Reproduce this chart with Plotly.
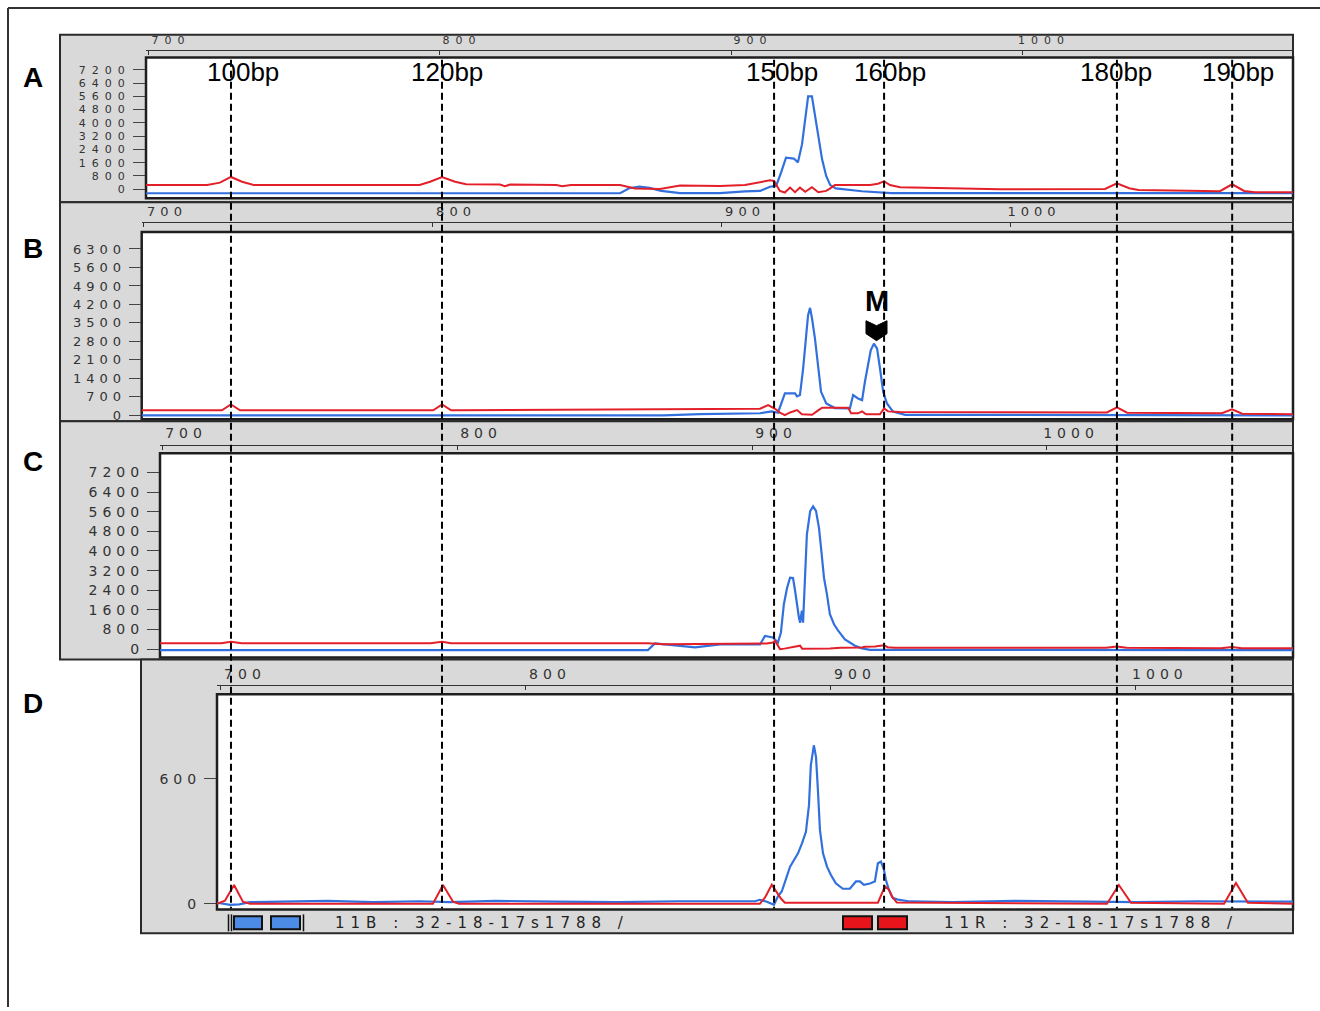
import plotly.graph_objects as go

W, H = 1320, 1011


def px(x):
    return x / W


def py(y):
    return 1 - y / H


# ------------------------------------------------------------------ data
scan_ticks = [700, 800, 900, 1000]

a_yticks = [0, 800, 1600, 2400, 3200, 4000, 4800, 5600, 6400, 7200]
b_yticks = [0, 700, 1400, 2100, 2800, 3500, 4200, 4900, 5600, 6300]
c_yticks = [0, 800, 1600, 2400, 3200, 4000, 4800, 5600, 6400, 7200]
d_yticks = [0, 600]

# size standard peaks (scan units of panel A) and their sizes
size_std_scan = [728.2, 800.7, 914.8, 952.6, 1032.6, 1072.2]
size_std_labels = ["100bp", "120bp", "150bp", "160bp", "180bp", "190bp"]

# Panel A
a_blue_x = [699, 861.9, 865, 868.5, 872, 876, 882.5, 896.2, 904.8, 910, 913.4, 915.5,
            917.2, 918.9, 921.6, 923.0, 924.4, 925.4, 926.5, 927.8, 928.9, 929.9, 931.3,
            932.7, 934.1, 936, 945, 955, 1093]
a_blue_y = [-240, -240, 60, 160, 80, -100, -230, -230, -130, -100, 150, 200,
            1000, 1900, 1850, 1620, 2700, 4200, 5600, 5600, 4400, 3100, 1800,
            800, 250, 50, -120, -230, -240]
a_red_x = [699, 720, 724.4, 728.2, 732.0, 736, 793, 796.6, 800.7, 805.2, 809, 820.6, 822.3,
           824.1, 840, 842, 845, 861.9, 867, 875.6, 882.5, 896.2, 904.8, 908.2, 913.4,
           914.8, 916.8, 918.5, 920.3, 922, 923.7, 925.5, 927.8, 930, 932.7, 934.1, 935.7,
           947.8, 950.5, 952.6, 954.6, 958.1, 992.4, 1028.5, 1032.6, 1036.8, 1040, 1068.0,
           1072.2, 1076.3, 1080, 1093]
a_red_y = [250, 250, 400, 740, 450, 260, 260, 450, 740, 450, 300, 280, 180,
           280, 260, 180, 260, 260, 50, 20, 220, 200, 250, 350, 540,
           500, -100, -200, 100, -180, 100, -150, 120, -180, -100, 50, 250,
           260, 330, 480, 250, 120, 0, 20, 360, 60, -50, -120,
           300, -100, -180, -180]

# Panel B
b_blue_x = [699.5, 880, 892.7, 905, 913.5, 917.5, 919.7, 922.1, 925.6, 926.3, 927.3, 928.4,
            929.4, 930.1, 930.8, 931.5, 932.5, 933.6, 934.6, 936.4, 939.4, 944.6, 945.7,
            947.4, 948.8, 949.8, 950.9, 951.8, 952.9, 954.0, 955.0, 956.1, 957.4, 959.5,
            963.7, 1097.9]
b_blue_y = [0, 0, 50, 60, 80, 150, 100, 830, 830, 717, 766, 1773,
            2904, 3783, 4070, 3659, 2904, 1773, 894, 453, 275, 264, 766,
            641, 577, 1282, 1897, 2463, 2716, 2527, 1773, 894, 453, 140,
            20, 0]
b_red_x = [699.5, 727.3, 730.4, 733.6, 736, 800.4, 803.5, 806.6, 809, 913.5, 916.3, 918.7,
           920.4, 922.1, 923.9, 926.3, 928.0, 931.5, 933.6, 935.0, 944.0, 945.0, 947.4,
           948.8, 950.2, 955.0, 956.4, 957.8, 961.9, 1033.5, 1037.0, 1040.5, 1073.3,
           1076.8, 1080.3, 1097.9]
b_red_y = [190, 190, 415, 190, 190, 190, 415, 190, 190, 250, 390, 250,
           100, 10, 110, 200, 40, 20, 190, 290, 290, 75, 75,
           150, 40, 40, 264, 150, 130, 110, 300, 100, 80,
           226, 60, 40]

# Panel C
c_blue_x = [699.3, 864.7, 867.1, 873, 880.7, 889.2, 902.7, 904.4, 907.1, 908.8, 909.8,
            910.8, 911.9, 912.9, 913.9, 914.6, 915.3, 915.9, 916.3, 916.9, 917.3, 918.0,
            918.6, 919.7, 920.7, 921.7, 922.7, 923.4, 924.4, 925.4, 926.4, 927.8, 929.2,
            931.5, 934.9, 937.3, 940, 1083.4]
c_blue_y = [-40, -40, 230, 150, 70, 190, 190, 540, 475, 270, 680,
            1830, 2500, 2910, 2900, 2380, 1690, 1290, 1080, 1570, 1080, 3045,
            4670, 5620, 5820, 5630, 4940, 4130, 2910, 2230, 1420, 1015, 750,
            400, 140, 30, -30, -40]
c_red_x = [699.3, 720, 723.4, 727, 791, 794.9, 798, 864.7, 870, 890, 905, 907.1, 907.8,
           909.5, 911, 916.3, 917, 926.4, 930, 937.3, 938.3, 941.7, 944.7, 946, 948.5,
           1020, 1023.7, 1027, 1059, 1062.7, 1066, 1083.4]
c_red_y = [244, 244, 300, 244, 244, 300, 244, 244, 200, 230, 230, 270, 340,
           0, 20, 140, 20, 30, 60, 70, 100, 110, 160, 80, 60,
           60, 110, 60, 40, 90, 40, 40]

# Panel D
d_blue_x = [698.7, 701.3, 703, 706, 709.5, 720, 735, 750, 765, 775, 790, 810, 830, 850,
            870.2, 875.1, 876.7, 879, 881.3, 882.6, 883.9, 885.2, 886.6, 887.9, 889.2,
            890.5, 891.8, 892.8, 893.4, 894.4, 895.1, 895.7, 896.4, 897.4, 898.7, 900.0,
            901.6, 903.9, 906.2, 908.2, 909.5, 910.8, 912.8, 914.4, 915.4, 916.4, 917.4,
            918.0, 919.0, 920.3, 922.0, 925.9, 940, 960, 980, 1000, 1020, 1040, 1051.5]
d_blue_y = [5, 0, -5, -3, 8, 10, 14, 8, 12, 8, 14, 10, 8, 12,
            10, 12, 19, 10, -5, 35, 60, 115, 178, 210, 242,
            290, 345, 473, 664, 760, 704, 552, 353, 242, 178, 138,
            98, 72, 72, 107, 107, 91, 97, 107, 194, 202, 162,
            115, 67, 27, 20, 11, 8, 14, 10, 8, 12, 10, 10]
d_red_x = [698.7, 701.3, 704.3, 707.2, 709.5, 769.5, 772.8, 776.1, 778, 876.7, 878.4, 880.6,
           883.6, 884.9, 915.4, 916.7, 917.7, 919.0, 920.0, 921.6, 990.5, 994.4, 998.4,
           1028.9, 1032.8, 1036.7, 1051.5]
d_red_y = [0, 15, 90, 10, 0, 0, 90, 10, 0, 0, 30, 91,
           25, 5, 5, 50, 83, 68, 35, 6, 0, 90, 5,
           0, 100, 5, 0]

panel_data = [
    (a_blue_x, a_blue_y, a_red_x, a_red_y, a_yticks),
    (b_blue_x, b_blue_y, b_red_x, b_red_y, b_yticks),
    (c_blue_x, c_blue_y, c_red_x, c_red_y, c_yticks),
    (d_blue_x, d_blue_y, d_red_x, d_red_y, d_yticks),
]

# ------------------------------------------------------------------ layout geometry (pixels)
panels = [
    dict(name="A", box=(60, 35, 1293, 203), plot=(146, 57.7, 1293, 199), axis_y=50,
         xr=(699.0, 1093.1), yr=(-540, 7938), letter=(33, 78), fs=11, sp=6, xs=22),
    dict(name="B", box=(60, 203, 1293, 423), plot=(141.7, 233, 1293, 421), axis_y=223,
         xr=(699.55, 1097.9), yr=(-151, 6940), letter=(33, 249), fs=13, sp=5, xs=24),
    dict(name="C", box=(60, 423, 1293, 662), plot=(160, 455, 1293, 660), axis_y=446.7,
         xr=(699.3, 1083.4), yr=(-337, 7986), letter=(33, 463), fs=14, sp=5, xs=24),
    dict(name="D", box=(141, 662, 1293, 937), plot=(217, 697, 1293, 913), axis_y=688,
         xr=(698.7, 1051.5), yr=(-27, 1005), letter=(33, 706), fs=14, sp=5, xs=24),
]
label_xshift = [12, 5, 8, 6, -1, 6]

BLUE = "#3270de"
RED = "#e3202a"
GRAY = "#d9d9d9"


def spaced(t, sp=5):
    return f'<span style="letter-spacing:{sp}px">{t}</span>'


fig = go.Figure()
shapes = []
annotations = []

# outer frame
shapes.append(dict(type="line", xref="paper", yref="paper", x0=px(8), x1=px(1320),
                   y0=py(8), y1=py(8), line=dict(color="#333", width=2), layer="below"))
shapes.append(dict(type="line", xref="paper", yref="paper", x0=px(8), x1=px(8),
                   y0=py(8), y1=py(1011), line=dict(color="#333", width=2), layer="below"))

for i, (p, d) in enumerate(zip(panels, panel_data)):
    bx, by, rx, ry, yt = d
    n = "" if i == 0 else str(i + 1)
    xa, ya = "x" + n, "y" + n
    x0, y0, x1, y1 = p["box"]
    shapes.append(dict(type="rect", xref="paper", yref="paper", x0=px(x0), x1=px(x1),
                       y0=py(y1), y1=py(y0), fillcolor=GRAY,
                       line=dict(color="#2a2a2a", width=2), layer="below"))
    q0, r0, q1, r1 = p["plot"]
    shapes.append(dict(type="rect", xref="paper", yref="paper", x0=px(q0), x1=px(q1),
                       y0=py(r1), y1=py(r0), fillcolor="white",
                       line=dict(color="#1e1e1e", width=2.5), layer="below"))

    fig.add_trace(go.Scatter(x=bx, y=by, mode="lines", line=dict(color=BLUE, width=2.2),
                             xaxis=xa, yaxis=ya, hoverinfo="skip"))
    fig.add_trace(go.Scatter(x=rx, y=ry, mode="lines", line=dict(color=RED, width=2),
                             xaxis=xa, yaxis=ya, hoverinfo="skip"))

    tf = dict(family="DejaVu Sans", size=p["fs"], color="#333")
    fig.update_layout(**{
        "xaxis" + n: dict(domain=[px(q0), px(q1)], range=list(p["xr"]), side="top",
                          anchor="free", position=py(p["axis_y"]), showline=True,
                          linecolor="#333", linewidth=1, ticks="inside", ticklen=4,
                          tickcolor="#333", tickvals=scan_ticks,
                          ticktext=[spaced(v, p["sp"]) for v in scan_ticks], tickfont=tf,
                          ticklabelshift=p["xs"], ticklabelstandoff=1,
                          showgrid=False, zeroline=False, fixedrange=True),
        "yaxis" + n: dict(domain=[py(r1), py(r0)], range=list(p["yr"]), anchor=xa,
                          side="left", ticks="outside", ticklen=12, tickcolor="#444",
                          tickvals=yt, ticktext=[spaced(v, p["sp"]) for v in yt],
                          tickfont=tf, showgrid=False, zeroline=False,
                          showline=False, fixedrange=True),
    })

    lx, ly = p["letter"]
    annotations.append(dict(xref="paper", yref="paper", x=px(lx), y=py(ly), text=f"<b>{p['name']}</b>",
                            showarrow=False, xanchor="center", yanchor="middle",
                            font=dict(family="Liberation Sans", size=28, color="black")))

# dashed size-standard lines and labels
for s, lab, sh in zip(size_std_scan, size_std_labels, label_xshift):
    shapes.append(dict(type="line", xref="x", yref="paper", x0=s, x1=s, y0=py(60), y1=py(912),
                       line=dict(color="black", width=2, dash="7px,4px"), layer="above"))
    annotations.append(dict(xref="x", yref="paper", x=s, xshift=sh, y=py(72.5), text=lab,
                            showarrow=False, xanchor="center", yanchor="middle",
                            font=dict(family="Liberation Sans", size=26, color="black")))

# M marker (panel B)
annotations.append(dict(xref="paper", yref="paper", x=px(877), y=py(302), text="<b>M</b>",
                        showarrow=False, xanchor="center", yanchor="middle",
                        font=dict(family="Liberation Sans", size=29, color="black")))
chev = [(866, 322), (876.5, 327), (887, 322), (887, 335), (876.5, 342), (866, 335)]
path = "M " + " L ".join(f"{px(a):.5f},{py(b):.5f}" for a, b in chev) + " Z"
shapes.append(dict(type="path", xref="paper", yref="paper", path=path, fillcolor="black",
                   line=dict(color="black", width=1), layer="above"))

# legend strip of panel D
for (a, b) in [(234, 262), (271, 300)]:
    shapes.append(dict(type="rect", xref="paper", yref="paper", x0=px(a), x1=px(b),
                       y0=py(933), y1=py(920), fillcolor="#4d8ce6",
                       line=dict(color="#111", width=2), layer="above"))
for (a, b) in [(843, 872), (878, 907)]:
    shapes.append(dict(type="rect", xref="paper", yref="paper", x0=px(a), x1=px(b),
                       y0=py(933), y1=py(920), fillcolor="#e8141c",
                       line=dict(color="#111", width=2), layer="above"))
for xx in [228.5, 231.5, 303.5]:
    shapes.append(dict(type="line", xref="paper", yref="paper", x0=px(xx), x1=px(xx),
                       y0=py(935), y1=py(918), line=dict(color="#111", width=1.5), layer="above"))
for xx, txt in [(333, "11B : 32-18-17s1788 /"), (942, "11R : 32-18-17s1788 /")]:
    annotations.append(dict(xref="paper", yref="paper", x=px(xx), y=py(926.5),
                            text=spaced(txt, 6), showarrow=False, xanchor="left",
                            yanchor="middle",
                            font=dict(family="DejaVu Sans", size=15, color="#222")))

fig.update_layout(width=W, height=H, autosize=False, margin=dict(l=0, r=0, t=0, b=0),
                  paper_bgcolor="white", plot_bgcolor="rgba(0,0,0,0)", showlegend=False,
                  shapes=shapes, annotations=annotations)

fig.write_html("out.html", config={"displayModeBar": False},
               post_script="document.body.style.margin='0';document.body.style.overflow='hidden';")
